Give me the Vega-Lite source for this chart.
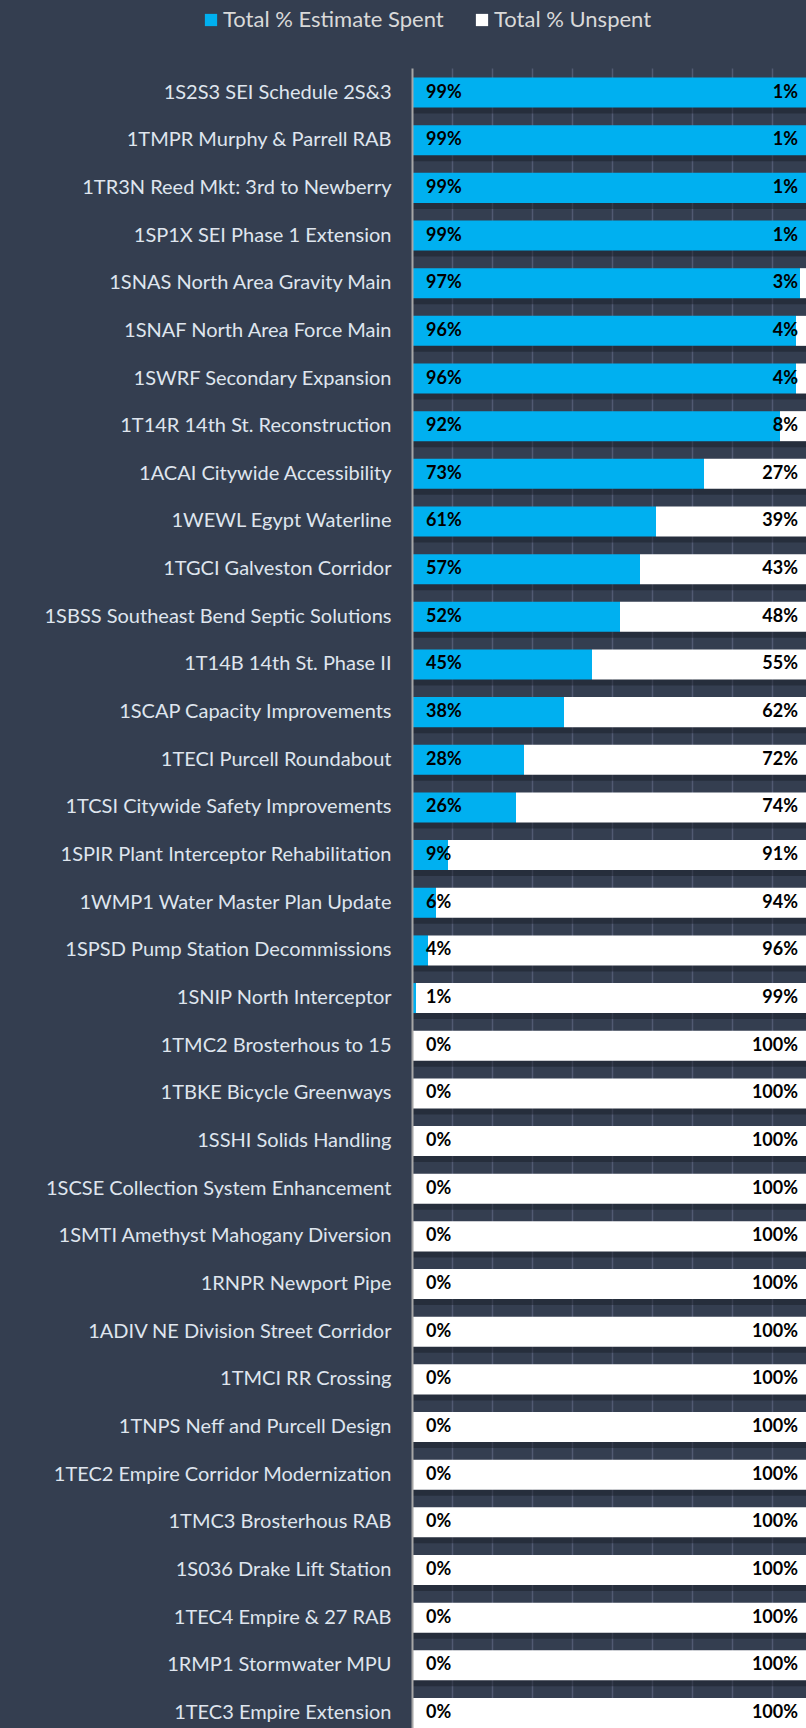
{
  "$schema": "https://vega.github.io/schema/vega-lite/v6.json",
  "width": 394,
  "height": 1660,
  "autosize": {"type": "none"},
  "padding": {"left": 412, "top": 68, "right": 0, "bottom": 0},
  "background": "#343e50",
  "config": {"view": {"stroke": null}, "font": "Lato"},
  "data": {"values": [
    {"project": "1S2S3 SEI Schedule 2S&3", "spent": 0.99, "unspent": 0.01},
    {"project": "1TMPR Murphy & Parrell RAB", "spent": 0.99, "unspent": 0.01},
    {"project": "1TR3N Reed Mkt: 3rd to Newberry\u00a0", "spent": 0.99, "unspent": 0.01},
    {"project": "1SP1X SEI Phase 1 Extension", "spent": 0.99, "unspent": 0.01},
    {"project": "1SNAS North Area Gravity Main", "spent": 0.97, "unspent": 0.03},
    {"project": "1SNAF North Area Force Main", "spent": 0.96, "unspent": 0.04},
    {"project": "1SWRF Secondary Expansion\u00a0", "spent": 0.96, "unspent": 0.04},
    {"project": "1T14R 14th St. Reconstruction\u00a0", "spent": 0.92, "unspent": 0.08},
    {"project": "1ACAI Citywide Accessibility", "spent": 0.73, "unspent": 0.27},
    {"project": "1WEWL Egypt Waterline", "spent": 0.61, "unspent": 0.39},
    {"project": "1TGCI Galveston Corridor", "spent": 0.57, "unspent": 0.43},
    {"project": "1SBSS Southeast Bend Septic Solutions", "spent": 0.52, "unspent": 0.48},
    {"project": "1T14B 14th St. Phase II", "spent": 0.45, "unspent": 0.55},
    {"project": "1SCAP Capacity Improvements", "spent": 0.38, "unspent": 0.62},
    {"project": "1TECI Purcell Roundabout", "spent": 0.28, "unspent": 0.72},
    {"project": "1TCSI Citywide Safety Improvements", "spent": 0.26, "unspent": 0.74},
    {"project": "1SPIR Plant Interceptor Rehabilitation\u00a0", "spent": 0.09, "unspent": 0.91},
    {"project": "1WMP1 Water Master Plan Update\u00a0", "spent": 0.06, "unspent": 0.94},
    {"project": "1SPSD Pump Station Decommissions", "spent": 0.04, "unspent": 0.96},
    {"project": "1SNIP North Interceptor\u00a0", "spent": 0.01, "unspent": 0.99},
    {"project": "1TMC2 Brosterhous to 15", "spent": 0, "unspent": 1},
    {"project": "1TBKE Bicycle Greenways", "spent": 0, "unspent": 1},
    {"project": "1SSHI Solids Handling", "spent": 0, "unspent": 1},
    {"project": "1SCSE Collection System Enhancement", "spent": 0, "unspent": 1},
    {"project": "1SMTI Amethyst Mahogany Diversion", "spent": 0, "unspent": 1},
    {"project": "1RNPR Newport Pipe", "spent": 0, "unspent": 1},
    {"project": "1ADIV NE Division Street Corridor", "spent": 0, "unspent": 1},
    {"project": "1TMCI RR Crossing", "spent": 0, "unspent": 1},
    {"project": "1TNPS Neff and Purcell Design", "spent": 0, "unspent": 1},
    {"project": "1TEC2 Empire Corridor Modernization", "spent": 0, "unspent": 1},
    {"project": "1TMC3 Brosterhous RAB", "spent": 0, "unspent": 1},
    {"project": "1S036 Drake Lift Station", "spent": 0, "unspent": 1},
    {"project": "1TEC4 Empire & 27 RAB", "spent": 0, "unspent": 1},
    {"project": "1RMP1 Stormwater MPU", "spent": 0, "unspent": 1},
    {"project": "1TEC3 Empire Extension", "spent": 0, "unspent": 1}
  ]},
  "encoding": {
    "y": {
      "field": "project",
      "type": "nominal",
      "sort": null,
      "scale": {"paddingInner": 0.37, "paddingOuter": 0.1, "align": 1},
      "axis": {
        "title": null,
        "ticks": false,
        "domainColor": "#a6a6a6",
        "domainWidth": 2,
        "labelColor": "#dfe5ee",
        "labelFont": "Lato",
        "labelFontSize": 20,
        "labelPadding": 21,
        "labelLimit": 420,
        "zindex": 1
      }
    }
  },
  "layer": [
    {
      "mark": {"type": "bar", "color": "#161b24", "opacity": 0.45, "yOffset": 6, "clip": true},
      "encoding": {
        "x": {"datum": 0, "type": "quantitative"},
        "x2": {"datum": 1}
      }
    },
    {
      "transform": [{"fold": ["spent", "unspent"], "as": ["key", "value"]}],
      "mark": {"type": "bar", "clip": true},
      "encoding": {
        "x": {
          "field": "value",
          "type": "quantitative",
          "stack": "zero",
          "scale": {"domain": [0, 0.985], "nice": false, "zero": true},
          "axis": {
            "title": null,
            "labels": false,
            "ticks": false,
            "domain": false,
            "grid": true,
            "values": [0.1, 0.2, 0.3, 0.4, 0.5, 0.6, 0.7, 0.8, 0.9],
            "gridColor": "#59627a",
            "gridWidth": 1.5,
            "gridOpacity": 0.8
          }
        },
        "color": {
          "field": "key",
          "type": "nominal",
          "scale": {"domain": ["spent", "unspent"], "range": ["#00b0f0", "#ffffff"]},
          "legend": {
            "title": null,
            "orient": "none",
            "direction": "horizontal",
            "legendX": -212,
            "legendY": -59,
            "symbolType": "square",
            "symbolSize": 150,
            "symbolStrokeWidth": 0,
            "labelOffset": 1,
            "columnPadding": 27,
            "labelLimit": 400,
            "labelColor": "#d9d9d9",
            "labelFont": "Lato",
            "labelFontSize": 22,
            "labelExpr": "datum.label == 'spent' ? 'Total % Estimate Spent' : 'Total % Unspent'"
          }
        },
        "order": {"field": "key", "sort": "ascending"}
      }
    },
    {
      "mark": {"type": "text", "align": "left", "baseline": "middle", "dx": 14, "fontWeight": "bold", "fontSize": 18, "color": "#000000", "font": "Lato"},
      "encoding": {
        "x": {"datum": 0, "type": "quantitative"},
        "text": {"field": "spent", "type": "quantitative", "format": ".0%"}
      }
    },
    {
      "mark": {"type": "text", "align": "right", "baseline": "middle", "dx": -14, "fontWeight": "bold", "fontSize": 18, "color": "#000000", "font": "Lato"},
      "encoding": {
        "x": {"datum": 1, "type": "quantitative"},
        "text": {"field": "unspent", "type": "quantitative", "format": ".0%"}
      }
    }
  ]
}
